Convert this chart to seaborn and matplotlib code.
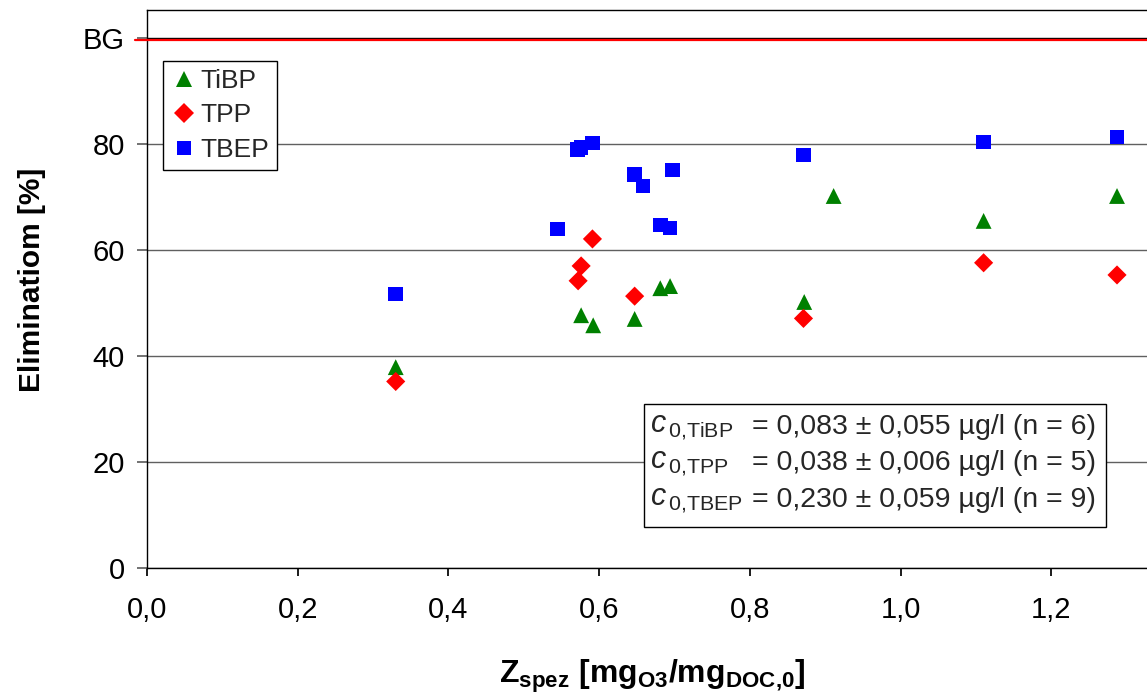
import pandas as pd
import seaborn as sns
import matplotlib.pyplot as plt
from matplotlib.patches import Rectangle

# Spez. Ozonzehrung vs. Elimination
tibp_x = [0.330, 0.576, 0.592, 0.647, 0.681, 0.694, 0.872, 0.911, 1.110, 1.287]
tibp_y = [37.9, 47.7, 45.8, 47.0, 52.8, 53.2, 50.2, 70.2, 65.5, 70.2]

tpp_x = [0.330, 0.572, 0.576, 0.591, 0.647, 0.871, 1.110, 1.287]
tpp_y = [35.2, 54.2, 57.0, 62.1, 51.3, 47.1, 57.6, 55.3]

tbep_x = [0.330, 0.545, 0.571, 0.576, 0.591, 0.647, 0.658, 0.681, 0.694, 0.697, 0.871, 1.110, 1.287]
tbep_y = [51.7, 64.0, 79.0, 79.4, 80.2, 74.3, 72.1, 64.7, 64.2, 75.1, 77.9, 80.4, 81.3]

substances = ["TiBP", "TPP", "TBEP"]
colors = {"TiBP": "#008000", "TPP": "#FF0000", "TBEP": "#0000FF"}
markers = {"TiBP": "^", "TPP": "D", "TBEP": "s"}
msizes = {"TiBP": 130, "TPP": 95, "TBEP": 110}

box_labels = [r"$\mathit{c}_{\,\mathrm{0{,}TiBP}}$", r"$\mathit{c}_{\,\mathrm{0{,}TPP}}$",
              r"$\mathit{c}_{\,\mathrm{0{,}TBEP}}$"]
box_values = ["= 0,083 ± 0,055 µg/l (n = 6)", "= 0,038 ± 0,006 µg/l (n = 5)",
              "= 0,230 ± 0,059 µg/l (n = 9)"]

df = pd.concat([
    pd.DataFrame({"x": tibp_x, "y": tibp_y, "Stoff": "TiBP"}),
    pd.DataFrame({"x": tpp_x, "y": tpp_y, "Stoff": "TPP"}),
    pd.DataFrame({"x": tbep_x, "y": tbep_y, "Stoff": "TBEP"}),
])

sns.set_theme(style="white")
plt.rcParams["font.family"] = ["Liberation Sans", "DejaVu Sans"]
plt.rcParams["mathtext.fontset"] = "custom"
plt.rcParams["mathtext.rm"] = "Liberation Sans"
plt.rcParams["mathtext.it"] = "Liberation Sans:italic"
plt.rcParams["mathtext.bf"] = "Liberation Sans:bold"

W, H = 1147, 700
fig = plt.figure(figsize=(W / 100, H / 100), dpi=100)
ax = fig.add_axes([147 / W, 1 - 568 / H, 1 - 147 / W + 0.01, (568 - 10) / H])
AW, AH = 1011.5, 558  # axes size in px

sns.scatterplot(data=df, x="x", y="y", hue="Stoff", style="Stoff", size="Stoff",
                hue_order=substances, style_order=substances, size_order=substances,
                palette=colors, markers=markers, sizes=msizes, linewidth=0, ax=ax)

ax.set_xlim(0, 1.342)
ax.set_ylim(0, 105.3)
ax.set_xticks([0, 0.2, 0.4, 0.6, 0.8, 1.0, 1.2])
ax.set_xticklabels(["0,0", "0,2", "0,4", "0,6", "0,8", "1,0", "1,2"])
ax.set_yticks([0, 20, 40, 60, 80, 100])
ax.set_yticklabels(["0", "20", "40", "60", "80", "BG"])
ax.tick_params(axis="both", labelsize=21, direction="out", bottom=True, left=True,
               labelcolor="black")
ax.tick_params(axis="y", length=7, color="#606060", pad=9)
ax.tick_params(axis="x", length=6, color="black", pad=14)

ax.grid(axis="y", color="#606060", lw=1)
ax.get_ygridlines()[-1].set_color("black")
ax.plot([-0.012, 1], [99.6, 99.6], color="red", lw=1.6,
        transform=ax.get_yaxis_transform(), clip_on=False, zorder=3)

for s in ["left", "bottom", "top"]:
    ax.spines[s].set_color("black")
    ax.spines[s].set_linewidth(1)
ax.spines["right"].set_visible(False)

ax.set_xlabel(r"$\mathbf{Z_{spez}\ [mg_{O3}/mg_{DOC{,}0}]}$", fontsize=23, color="black")
ax.xaxis.set_label_coords((652 - 147) / AW, -(658 - 568) / AH)
ax.set_ylabel("Eliminatiom [%]", fontsize=21.5, fontweight="bold", color="black")
ax.yaxis.set_label_coords(-(147 - 46) / AW, (568 - 280) / AH)

leg = ax.legend(loc="upper left", bbox_to_anchor=(16 / AW, 1 - 51 / AH), fontsize=19,
                frameon=True, fancybox=False, edgecolor="black", framealpha=1,
                handletextpad=0.1, labelspacing=0.4, borderpad=0.3, handlelength=1.0,
                borderaxespad=0)
leg.get_frame().set_linewidth(1)

# concentration box
fig.patches.append(Rectangle((644 / W, 1 - 527 / H), (1106 - 644) / W, (527 - 404) / H,
                             transform=fig.transFigure, fill=True, facecolor="white",
                             edgecolor="black", lw=1, zorder=5))
rows = [427, 463, 500]
for lab, val, py in zip(box_labels, box_values, rows):
    fig.text(650 / W, 1 - py / H, lab, fontsize=22, va="center", ha="left", zorder=6)
    fig.text(752 / W, 1 - py / H, val, fontsize=20.5, va="center", ha="left", zorder=6)

fig.savefig("out.png", dpi=100)
